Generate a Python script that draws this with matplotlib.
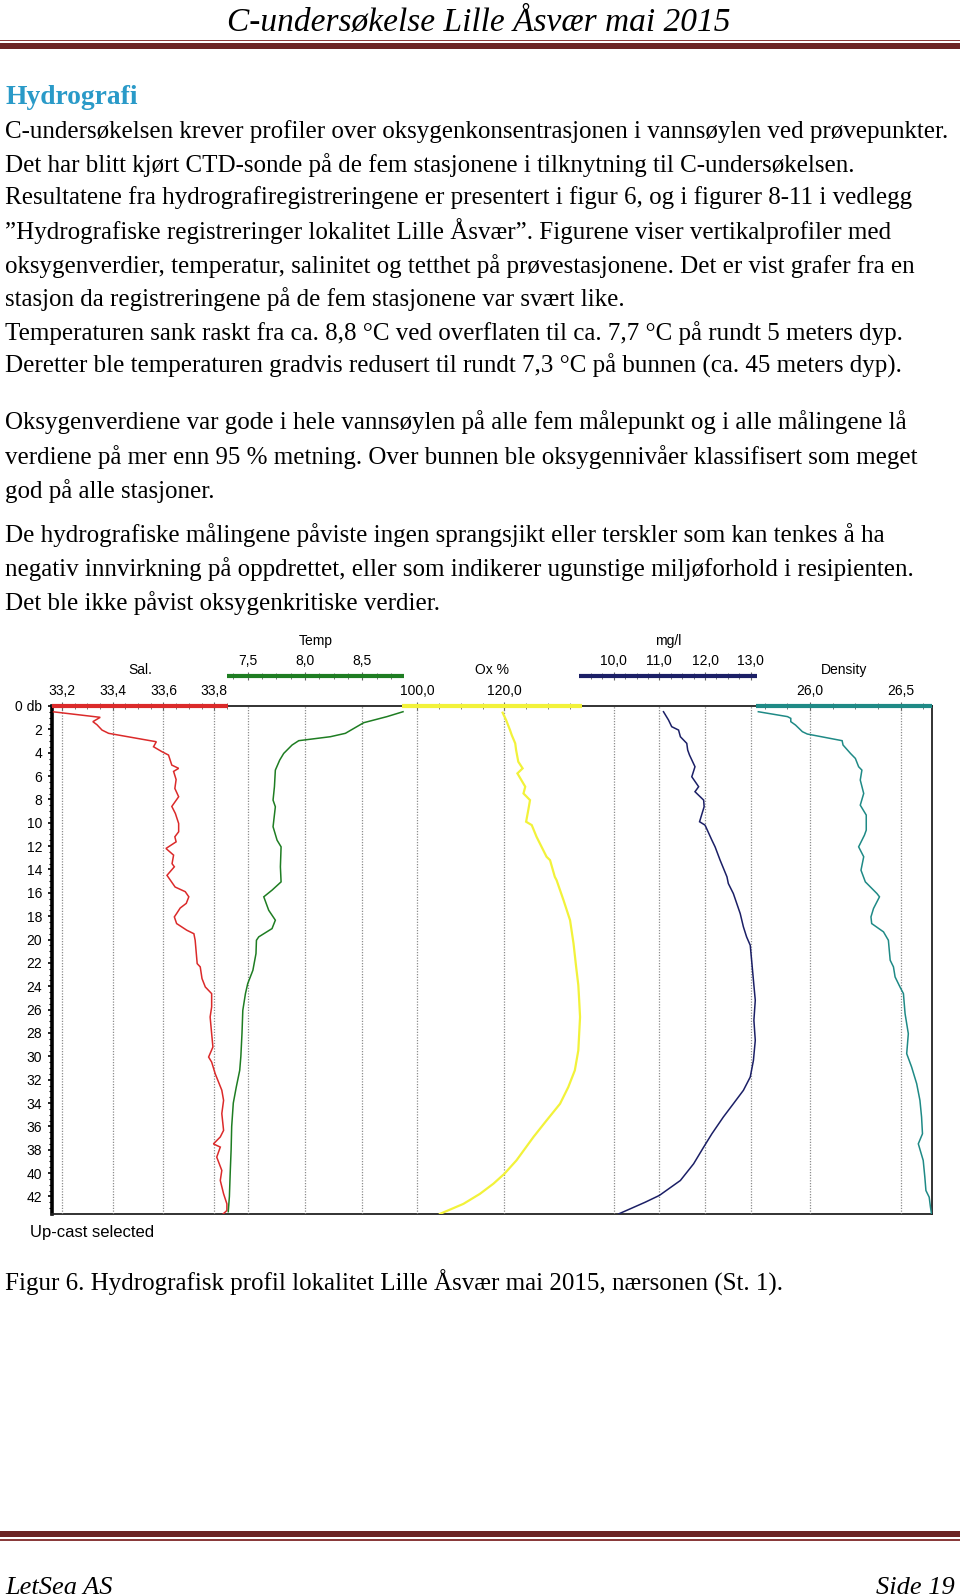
import matplotlib
matplotlib.use("Agg")
import numpy as np
import matplotlib.pyplot as plt
from matplotlib.patches import Rectangle

W, H = 960, 1596
DPI = 100

# ---------------- profile data ----------------
sal_depth = [0.5, 0.97, 1.34, 1.6, 2.06, 2.34, 2.97, 3.06, 3.49, 3.91,
             4.2, 5.06, 5.34, 5.6, 6.3, 7.06, 7.77, 8.6, 9.2, 10.06,
             10.77, 11.2, 11.63, 12.2, 12.77, 13.5, 13.77, 14.5, 15.5, 15.9,
             16.34, 16.9, 17.3, 17.77, 18.06, 18.63, 19.2, 19.5, 20.06, 22.06,
             22.34, 23.34, 24.06, 24.63, 25.77, 26.63, 28.06, 29.2, 30.06, 30.49,
             31.49, 32.9, 33.77, 34.9, 36.34, 36.9, 37.5, 37.77, 38.63, 39.77,
             40.63, 41.77, 42.63, 43.2, 43.5]
sal = [33.167, 33.351, 33.322, 33.338, 33.358, 33.384, 33.548, 33.572, 33.561, 33.594,
       33.62, 33.633, 33.66, 33.64, 33.65, 33.645, 33.66, 33.633, 33.647, 33.66,
       33.66, 33.645, 33.65, 33.61, 33.64, 33.634, 33.643, 33.614, 33.646, 33.686,
       33.70, 33.69, 33.666, 33.652, 33.643, 33.652, 33.692, 33.72, 33.725, 33.733,
       33.745, 33.752, 33.765, 33.79, 33.79, 33.784, 33.79, 33.795, 33.778, 33.79,
       33.804, 33.83, 33.837, 33.83, 33.837, 33.824, 33.797, 33.824, 33.81, 33.83,
       33.824, 33.837, 33.85, 33.85, 33.835]

temp_depth = [0.49, 0.91, 1.43, 2.34, 2.63, 2.97, 3.34, 4.06, 4.63, 5.49,
              6.91, 8.06, 8.63, 10.34, 11.49, 12.06, 13.77, 15.06, 15.77, 16.34,
              17.49, 18.34, 19.06, 19.77, 20.06, 21.2, 22.63, 23.77, 24.63, 26.06,
              28.0, 30.0, 31.2, 32.63, 34.0, 36.0, 38.0, 40.0, 42.0, 43.3]
temp = [8.855, 8.715, 8.512, 8.352, 8.221, 7.945, 7.887, 7.814, 7.779, 7.741,
        7.733, 7.721, 7.741, 7.721, 7.756, 7.791, 7.785, 7.791, 7.712, 7.64,
        7.683, 7.741, 7.712, 7.596, 7.576, 7.572, 7.545, 7.50, 7.48, 7.457,
        7.45, 7.44, 7.43, 7.40, 7.374, 7.36, 7.355, 7.347, 7.34, 7.33]

ox_depth = [0.57, 1.2, 2.06, 2.49, 3.2, 3.77, 4.77, 5.34, 5.77, 6.91,
            7.49, 8.06, 8.91, 9.91, 10.2, 11.2, 12.91, 13.2, 14.63, 14.91,
            16.63, 18.34, 20.34, 22.34, 23.9, 25.2, 26.63, 28.06, 29.49, 31.2,
            32.63, 34.06, 35.49, 36.9, 38.9, 40.06, 40.9, 41.77, 42.63, 43.49]
ox = [119.6, 120.4, 121.3, 121.7, 122.5, 122.7, 123.2, 124.2, 123.0, 124.8,
      124.4, 125.9, 125.5, 125.0, 126.3, 127.4, 129.7, 130.5, 131.6, 132.0,
      133.6, 135.1, 135.9, 136.5, 137.0, 137.2, 137.4, 137.2, 137.0, 136.2,
      134.7, 132.8, 129.7, 126.7, 122.8, 120.0, 117.5, 114.4, 110.6, 105.2]

mg_depth = [0.49, 1.2, 1.77, 2.06, 2.63, 3.2, 3.77, 4.2, 5.2, 6.06,
            6.91, 7.34, 8.06, 8.63, 9.91, 10.2, 11.49, 12.06, 13.2, 14.63,
            15.2, 16.06, 17.77, 18.91, 19.77, 20.49, 21.77, 23.49, 25.2, 26.91,
            28.63, 30.34, 31.77, 32.91, 34.06, 35.2, 36.63, 37.77, 39.2, 40.63,
            41.91, 42.49, 43.06, 43.49]
mg = [11.09, 11.20, 11.27, 11.42, 11.46, 11.60, 11.62, 11.66, 11.78, 11.71,
      11.86, 11.78, 11.97, 11.98, 11.88, 12.00, 12.15, 12.22, 12.33, 12.48,
      12.51, 12.62, 12.77, 12.84, 12.91, 12.99, 13.02, 13.06, 13.10, 13.07,
      13.10, 13.06, 12.99, 12.84, 12.62, 12.40, 12.15, 11.97, 11.75, 11.46,
      11.0, 10.69, 10.36, 10.11]

dens_depth = [0.49, 0.91, 1.06, 1.34, 1.63, 2.2, 2.4, 2.97, 3.34, 4.06,
              4.49, 5.2, 5.49, 6.34, 7.49, 8.49, 9.34, 10.63, 11.06, 12.06,
              12.91, 14.06, 15.06, 16.06, 16.34, 17.34, 18.06, 18.63, 19.34, 20.06,
              21.77, 22.34, 23.2, 24.06, 24.63, 26.34, 28.06, 29.77, 30.91, 32.34,
              33.77, 35.2, 36.63, 37.49, 38.91, 40.34, 41.49, 42.06, 42.91, 43.5]
dens = [25.715, 25.876, 25.894, 25.894, 25.92, 25.958, 25.985, 26.177, 26.182, 26.223,
        26.25, 26.268, 26.286, 26.277, 26.296, 26.277, 26.31, 26.31, 26.30, 26.268,
        26.296, 26.281, 26.305, 26.369, 26.383, 26.35, 26.336, 26.34, 26.405, 26.432,
        26.442, 26.46, 26.469, 26.496, 26.515, 26.524, 26.542, 26.533, 26.56, 26.588,
        26.606, 26.615, 26.62, 26.597, 26.624, 26.633, 26.639, 26.657, 26.664, 26.67]

depth_ticks = list(range(0, 43, 2))
depth_labels = ["0 db"] + [str(d) for d in depth_ticks[1:]]

sal_ticks = [33.2, 33.4, 33.6, 33.8]
temp_ticks = [7.5, 8.0, 8.5]
ox_ticks = [100.0, 120.0]
mg_ticks = [10.0, 11.0, 12.0, 13.0]
dens_ticks = [26.0, 26.5]

# ---------------- page text ----------------
header = "C-undersøkelse Lille Åsvær mai 2015"
heading = "Hydrografi"
body_lines = [
    "C-undersøkelsen krever profiler over oksygenkonsentrasjonen i vannsøylen ved prøvepunkter.",
    "Det har blitt kjørt CTD-sonde på de fem stasjonene i tilknytning til C-undersøkelsen.",
    "Resultatene fra hydrografiregistreringene er presentert i figur 6, og i figurer 8-11 i vedlegg",
    "\u201dHydrografiske registreringer lokalitet Lille Åsvær\u201d. Figurene viser vertikalprofiler med",
    "oksygenverdier, temperatur, salinitet og tetthet på prøvestasjonene. Det er vist grafer fra en",
    "stasjon da registreringene på de fem stasjonene var svært like.",
    "Temperaturen sank raskt fra ca. 8,8 °C ved overflaten til ca. 7,7 °C på rundt 5 meters dyp.",
    "Deretter ble temperaturen gradvis redusert til rundt 7,3 °C på bunnen (ca. 45 meters dyp).",
    "Oksygenverdiene var gode i hele vannsøylen på alle fem målepunkt og i alle målingene lå",
    "verdiene på mer enn 95 % metning. Over bunnen ble oksygennivåer klassifisert som meget",
    "god på alle stasjoner.",
    "De hydrografiske målingene påviste ingen sprangsjikt eller terskler som kan tenkes å ha",
    "negativ innvirkning på oppdrettet, eller som indikerer ugunstige miljøforhold i resipienten.",
    "Det ble ikke påvist oksygenkritiske verdier.",
]
body_y = [132, 165, 198, 231, 266, 299, 333, 366, 422, 457, 491, 535, 569, 603]
caption = "Figur 6. Hydrografisk profil lokalitet Lille Åsvær mai 2015, nærsonen (St. 1)."

SERIF = "Liberation Serif"
SANS = "Liberation Sans"
MAROON = "#6B2424"


def fx(x):
    return x / W


def fy(y):
    return 1 - y / H


def comma(v):
    return f"{v:.1f}".replace(".", ",")


def add_profile(ax, depth, values, xlim, bar, major, minor_step, color, raised,
                title, lw=1.1):
    tw = ax.twiny()
    tw.set_xlim(*xlim)
    tw.set_ylim(ax.get_ylim())
    tw.patch.set_visible(False)
    for side in ("left", "right", "bottom"):
        tw.spines[side].set_visible(False)
    top = tw.spines["top"]
    top.set_bounds(*bar)
    top.set_color(color)
    top.set_linewidth(3.0)
    top.set_capstyle("butt")
    if raised:
        top.set_position(("outward", 21.6))
    tw.xaxis.set_ticks_position("top")
    tw.set_xticks(major)
    tw.set_xticklabels([comma(v) for v in major])
    minors = [m for m in np.arange(major[0] - 4 * minor_step, bar[1], minor_step)
              if bar[0] < m < bar[1] and min(abs(m - v) for v in major) > 1e-6]
    tw.set_xticks(minors, minor=True)
    tw.tick_params(axis="x", which="major", direction="inout", length=6, width=0.8,
                   color="#666666", labelsize=10, pad=3)
    tw.tick_params(axis="x", which="minor", direction="inout", length=4, width=0.7,
                   color="#777777")
    for v in major:
        tw.axvline(v, color="#8c8c8c", lw=0.9, ls=(0, (1, 1.2)), zorder=1)
    tw.plot(values, depth, color=color, lw=lw, zorder=3, solid_joinstyle="miter")
    off = 46.8 if raised else 25.9
    tw.annotate(title, xy=((bar[0] + bar[1]) / 2, 1), xycoords=("data", "axes fraction"),
                xytext=(0, off), textcoords="offset points", ha="center", va="center",
                fontsize=10, family=SANS)
    for lab in tw.get_xticklabels():
        lab.set_family(SANS)
    return tw


fig = plt.figure(figsize=(W / DPI, H / DPI), dpi=DPI)
fig.patch.set_facecolor("white")

# ---- header / footer ----
fig.text(fx(479), fy(23), header, ha="center", va="center", fontsize=24,
         family=SERIF, style="italic")
fig.add_artist(Rectangle((0, fy(41)), 1, 1.4 / H, transform=fig.transFigure,
                         facecolor="#8A3B3B", edgecolor="none"))
fig.add_artist(Rectangle((0, fy(49)), 1, 6 / H, transform=fig.transFigure,
                         facecolor=MAROON, edgecolor="none"))
fig.add_artist(Rectangle((0, fy(1537)), 1, 6 / H, transform=fig.transFigure,
                         facecolor=MAROON, edgecolor="none"))
fig.add_artist(Rectangle((0, fy(1540.5)), 1, 1.4 / H, transform=fig.transFigure,
                         facecolor="#8A3B3B", edgecolor="none"))
fig.text(fx(5), fy(1588), "LetSea AS", ha="left", va="center", fontsize=19,
         family=SERIF, style="italic")
fig.text(fx(955), fy(1588), "Side 19", ha="right", va="center", fontsize=19,
         family=SERIF, style="italic")

# ---- body text ----
fig.text(fx(5), fy(97), heading, ha="left", va="center", fontsize=19.8,
         family=SERIF, weight="bold", color="#2A9AC8")
for line, y in zip(body_lines, body_y):
    fig.text(fx(5), fy(y), line, ha="left", va="center", fontsize=18, family=SERIF)
fig.text(fx(5), fy(1283), caption, ha="left", va="center", fontsize=18, family=SERIF)

# ---- chart ----
L, R, T, B = 52, 932, 706, 1214
ax = fig.add_axes([fx(L), fy(B), (R - L) / W, (B - T) / H])
ax.set_ylim(43.5, 0)
ax.set_xlim(0, 1)
ax.set_xticks([])
ax.set_yticks(depth_ticks)
ax.set_yticklabels(depth_labels, family=SANS)
ax.set_yticks(np.arange(0, 43.5, 0.5), minor=True)
ax.tick_params(axis="y", which="major", direction="out", length=3, width=1.2,
               labelsize=10, pad=4)
ax.tick_params(axis="y", which="minor", direction="out", length=2, width=0.8)
for side in ("top", "right", "bottom"):
    ax.spines[side].set_linewidth(1.3)
    ax.spines[side].set_color("#222222")
ax.spines["left"].set_linewidth(2.6)

add_profile(ax, sal_depth, sal, (33.161, 36.628), (33.161, 33.853), sal_ticks, 0.05,
            "#DB2A2A", False, "Sal.")
add_profile(ax, temp_depth, temp, (5.792, 13.471), (7.317, 8.864), temp_ticks, 0.125,
            "#1E7D22", True, "Temp")
add_profile(ax, ox_depth, ox, (16.02, 218.3), (96.4, 137.8), ox_ticks, 5,
            "#F2F23A", False, "Ox %", lw=1.6)
add_profile(ax, mg_depth, mg, (-2.30, 16.97), (9.25, 13.13), mg_ticks, 0.25,
            "#1B1F66", True, "mg/l")
add_profile(ax, dens_depth, dens, (21.821, 26.6725), (25.70, 26.6725), dens_ticks, 0.125,
            "#1F8A86", False, "Density")

fig.text(fx(30), fy(1232), "Up-cast selected", ha="left", va="center", fontsize=12,
         family=SANS)

fig.savefig("out.png", dpi=DPI, facecolor="white")
